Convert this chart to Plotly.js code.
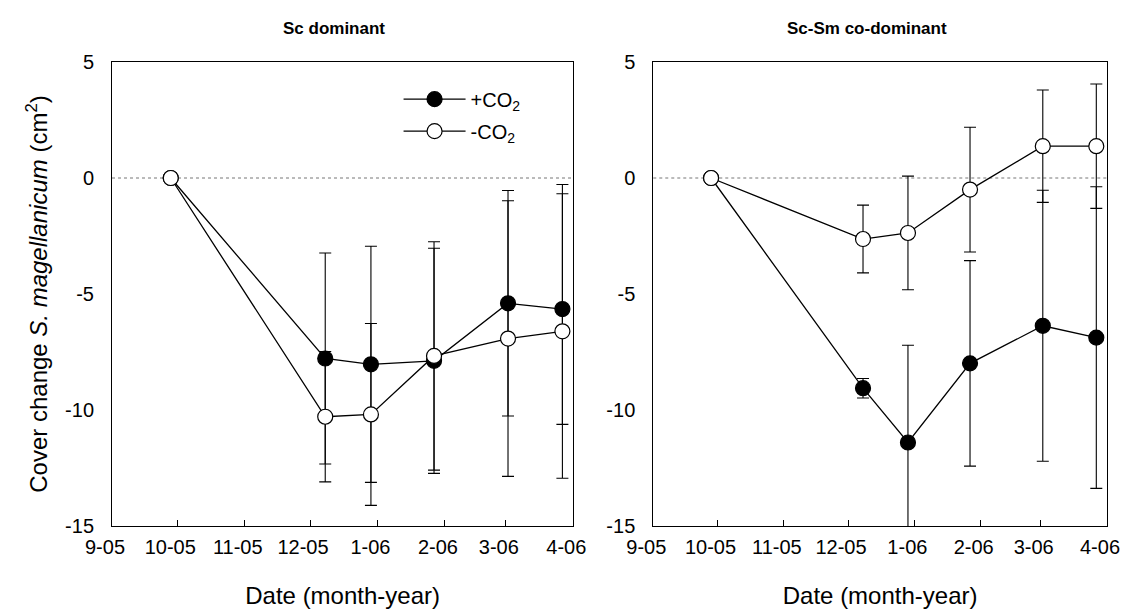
<!DOCTYPE html>
<html>
<head>
<meta charset="utf-8">
<script src="https://cdn.plot.ly/plotly-3.0.1.min.js"></script>
<style>html,body{margin:0;padding:0;background:#fff;}#chart{width:1134px;height:612px;}</style>
</head>
<body>
<div id="chart"></div>
<script>
// Sampling dates
var dates = ['2005-09-28', '2005-12-08', '2005-12-29', '2006-01-27', '2006-03-02', '2006-03-27'];

// Sc dominant panel
var scPlusCO2 = [0, -7.78, -8.03, -7.88, -5.40, -5.65];
var scPlusCO2Err = [0, 4.55, 5.09, 4.85, 4.86, 4.97];
var scMinusCO2 = [0, -10.29, -10.19, -7.67, -6.92, -6.61];
var scMinusCO2Err = [0, 2.81, 3.92, 4.92, 5.94, 6.33];

// Sc-Sm co-dominant panel
var smPlusCO2 = [0, -9.06, -11.40, -7.99, -6.37, -6.88];
var smPlusCO2Err = [0, 0.42, 4.19, 4.43, 5.84, 6.50];
var smMinusCO2 = [0, -2.63, -2.37, -0.50, 1.37, 1.37];
var smMinusCO2Err = [0, 1.46, 2.45, 2.69, 2.42, 2.68];

// Axis ticks
var monthTicks = ['2005-09-01', '2005-10-01', '2005-11-01', '2005-12-01', '2006-01-01', '2006-02-01', '2006-03-01', '2006-04-01'];
var monthLabels = ['9-05', '10-05', '11-05', '12-05', '1-06', '2-06', '3-06', '4-06'];
var yTicks = [-15, -10, -5, 0, 5];
var yLabels = ['-15', '-10', '-5', '0', '5'];

var seriesNames = ['+CO<sub>2</sub>', '-CO<sub>2</sub>'];
var panelTitles = ['Sc dominant', 'Sc-Sm co-dominant'];

var FONT = 'Liberation Sans, Arial, sans-serif';

function mk(x, y, err, filled, xa, ya, name, showleg) {
  return {
    type: 'scatter', mode: 'lines+markers', x: x, y: y, xaxis: xa, yaxis: ya,
    name: name, showlegend: showleg, legendgroup: name,
    line: {color: '#000', width: 1.3},
    marker: {size: 15, color: filled ? '#000' : '#fff', line: {color: '#000', width: 1.2}},
    error_y: {type: 'data', array: err, visible: true, color: '#000', thickness: 1.1, width: 6}
  };
}

var data = [
  mk(dates, scPlusCO2, scPlusCO2Err, true, 'x', 'y', seriesNames[0], true),
  mk(dates, scMinusCO2, scMinusCO2Err, false, 'x', 'y', seriesNames[1], true),
  mk(dates, smPlusCO2, smPlusCO2Err, true, 'x2', 'y2', seriesNames[0], false),
  mk(dates, smMinusCO2, smMinusCO2Err, false, 'x2', 'y2', seriesNames[1], false)
];

function xax(domain, anchor) {
  return {
    domain: domain, anchor: anchor, type: 'date',
    range: ['2005-09-01', '2006-04-01'],
    tickmode: 'array', tickvals: monthTicks, ticktext: monthLabels,
    ticks: 'inside', ticklen: 6, tickwidth: 1, tickcolor: '#000',
    ticklabelshift: -7, ticklabelstandoff: 3,
    showline: true, linecolor: '#000', linewidth: 1, mirror: true,
    showgrid: false, zeroline: false,
    tickfont: {family: FONT, size: 20, color: '#000'},
    title: {text: 'Date (month-year)', font: {family: FONT, size: 24, color: '#000'}, standoff: 30}
  };
}
function yax(anchor, withTitle) {
  var a = {
    anchor: anchor, range: [-15, 5],
    tickmode: 'array', tickvals: yTicks, ticktext: yLabels,
    ticks: '', ticklabelstandoff: 13,
    showline: true, linecolor: '#000', linewidth: 1, mirror: true,
    showgrid: false, zeroline: false,
    tickfont: {family: FONT, size: 20, color: '#000'}
  };
  if (withTitle) {
    a.title = {text: 'Cover change <i>S. magellanicum</i> (cm<sup>2</sup>)', font: {family: FONT, size: 24, color: '#000'}, standoff: 10};
  }
  return a;
}

var layout = {
  width: 1134, height: 612,
  margin: {l: 112, r: 27, t: 62, b: 86},
  paper_bgcolor: '#fff', plot_bgcolor: '#fff',
  xaxis: xax([0, 0.4636], 'y'),
  xaxis2: xax([0.544, 1], 'y2'),
  yaxis: yax('x', true),
  yaxis2: yax('x2', false),
  showlegend: true,
  legend: {
    x: 0.288, y: 0.962, xref: 'paper', yref: 'paper', xanchor: 'left', yanchor: 'top',
    bgcolor: 'rgba(0,0,0,0)', borderwidth: 0, itemwidth: 62,
    font: {family: FONT, size: 20, color: '#000'}, tracegroupgap: 3
  },
  shapes: [
    {type: 'line', xref: 'x domain', yref: 'y', x0: 0, x1: 1, y0: 0, y1: 0, line: {color: '#777', width: 1, dash: 'dot'}, layer: 'below'},
    {type: 'line', xref: 'x2 domain', yref: 'y2', x0: 0, x1: 1, y0: 0, y1: 0, line: {color: '#777', width: 1, dash: 'dot'}, layer: 'below'}
  ],
  annotations: [
    {text: '<b>' + panelTitles[0] + '</b>', xref: 'x domain', yref: 'paper', x: 0.4816, y: 1.073, showarrow: false, xanchor: 'center', yanchor: 'middle', font: {family: FONT, size: 17, color: '#000'}},
    {text: '<b>' + panelTitles[1] + '</b>', xref: 'x2 domain', yref: 'paper', x: 0.471, y: 1.073, showarrow: false, xanchor: 'center', yanchor: 'middle', font: {family: FONT, size: 17, color: '#000'}}
  ]
};

Plotly.newPlot('chart', data, layout, {displayModeBar: false, staticPlot: true});
</script>
</body>
</html>
